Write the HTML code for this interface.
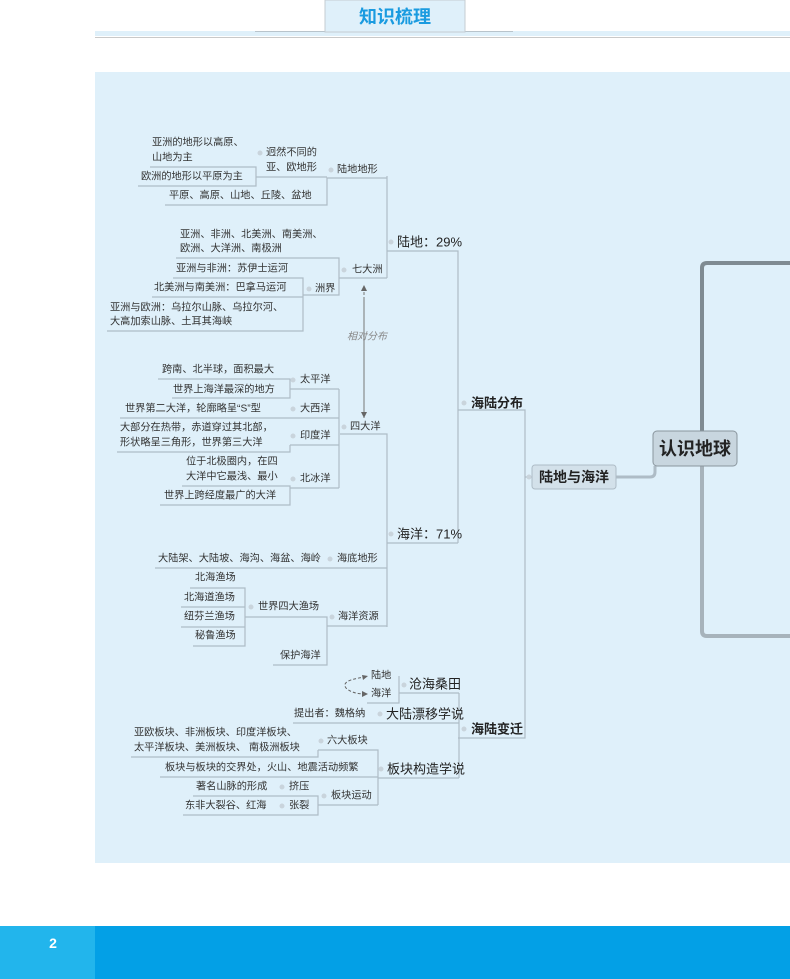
<!DOCTYPE html>
<html><head><meta charset="utf-8">
<style>
html,body{margin:0;padding:0;background:#fff;}
body{width:790px;height:979px;position:relative;overflow:hidden;font-family:"Liberation Sans","Noto Sans CJK SC",sans-serif;}
svg{position:absolute;left:0;top:0;}
</style></head><body>
<svg width="790" height="979" viewBox="0 0 790 979" font-family="Liberation Sans, Noto Sans CJK SC, sans-serif">
<defs>
<marker id="ah" markerWidth="8" markerHeight="8" refX="6" refY="3" orient="auto"><path d="M0,0 L6,3 L0,6 Z" fill="#666"/></marker>
</defs>
<rect x="95" y="31" width="695" height="5" fill="#dff0fa"/>
<rect x="95" y="37" width="695" height="1" fill="#c9c9c9"/>
<rect x="255" y="31" width="70" height="1" fill="#b8c4cc"/>
<rect x="465" y="31" width="48" height="1" fill="#b8c4cc"/>
<rect x="325" y="0" width="140" height="32" fill="#dff0fa" stroke="#c4ccd2" stroke-width="1"/>
<text x="395" y="17" text-anchor="middle" dominant-baseline="central" font-size="18" font-weight="bold" fill="#1a9be0">知识梳理</text>
<rect x="95" y="72" width="695" height="791" fill="#dff0fa"/>
<rect x="0" y="926" width="790" height="53" fill="#03a0e6"/>
<rect x="0" y="926" width="95" height="53" fill="#22b5ec"/>
<text x="53" y="943" text-anchor="middle" dominant-baseline="central" font-size="14" font-weight="bold" fill="#fff">2</text>

<g fill="none" stroke="#aebcc6" stroke-width="1.2">
<path d="M150 167 H256 V186 H138"/>
<path d="M256 177 H327"/>
<path d="M165 205 H327 V178 H387"/>
<path d="M176 258 H339 V295 H303"/>
<path d="M339 278 H387"/>
<path d="M173 278 H303 V331 H107"/>
<path d="M152 297 H303"/>
<path d="M387 176 V278"/>
<path d="M387 251 H458 V543"/>
<path d="M387 543 H458"/>
<path d="M158 379 H290 V398 H172"/>
<path d="M290 389 H339"/>
<path d="M120 418 H339"/>
<path d="M290 445 H339"/>
<path d="M290 445 V452 H117"/>
<path d="M182 486 H290 V505 H160"/>
<path d="M290 488 H339"/>
<path d="M339 389 V488"/>
<path d="M340 434 H387 V627"/>
<path d="M155 568 H387"/>
<path d="M327 626 H387"/>
<path d="M245 617 H327 V665 H273"/>
<path d="M190 588 H245 V646 H193"/>
<path d="M181 607 H245"/>
<path d="M181 627 H245"/>
<path d="M458 410 H525 V738 H458"/>
<path d="M459 693 V778"/>
<path d="M399 693 H459"/>
<path d="M367 703 H399 V676"/>
<path d="M293 723 H459"/>
<path d="M378 778 H459"/>
<path d="M318 750 H378 V805"/>
<path d="M318 750 V757 H131"/>
<path d="M160 777 H378"/>
<path d="M318 805 H378"/>
<path d="M193 796 H318 V815 H183"/>
<path d="M525 477 H532"/>
</g>
<path d="M616 477 H650 Q655 477 655 472 V466" fill="none" stroke="#aebcc6" stroke-width="3"/>
<path d="M790 263 H707 Q702 263 702 268 V431" fill="none" stroke="#7f8b92" stroke-width="4"/>
<path d="M702 466 V631 Q702 636 707 636 H790" fill="none" stroke="#a7b3bb" stroke-width="4"/>
<rect x="653" y="431" width="84" height="35" rx="4" fill="#c8d6df" stroke="#8a969e"/>
<text x="695" y="449" text-anchor="middle" dominant-baseline="central" font-size="18" font-weight="bold" fill="#222">认识地球</text>
<rect x="532" y="465" width="84" height="24" rx="3" fill="#d3e1ea" stroke="#aebcc6"/>
<text x="574" y="477" text-anchor="middle" dominant-baseline="central" font-size="14" font-weight="bold" fill="#222">陆地与海洋</text>
<path d="M364 410 V285" fill="none" stroke="#777" stroke-dasharray="3,2" marker-end="url(#ah)"/>
<path d="M364 300 V418" fill="none" stroke="#777" stroke-dasharray="3,2" marker-end="url(#ah)"/>
<text x="347" y="337" font-size="10" font-style="italic" fill="#888" dominant-baseline="central">相对分布</text>
<path d="M366 677 Q340 680 346 688 Q352 694 366 694" fill="none" stroke="#666" stroke-dasharray="3,2"/>
<path d="M362 675 L368 676 L363 680 Z" fill="#666"/>
<path d="M362 691 L368 694 L362 697 Z" fill="#666"/>

<g fill="#c9d4dc">
<circle cx="260" cy="153" r="2.5"/><circle cx="331" cy="170" r="2.5"/><circle cx="391" cy="242" r="2.5"/>
<circle cx="344" cy="270" r="2.5"/><circle cx="309" cy="289" r="2.5"/><circle cx="464" cy="403" r="2.5"/>
<circle cx="293" cy="380" r="2.5"/><circle cx="293" cy="409" r="2.5"/><circle cx="293" cy="436" r="2.5"/>
<circle cx="293" cy="479" r="2.5"/><circle cx="344" cy="427" r="2.5"/><circle cx="391" cy="534" r="2.5"/>
<circle cx="330" cy="559" r="2.5"/><circle cx="251" cy="607" r="2.5"/><circle cx="332" cy="617" r="2.5"/>
<circle cx="529" cy="477" r="2.5"/><circle cx="464" cy="729" r="2.5"/><circle cx="404" cy="685" r="2.5"/>
<circle cx="380" cy="714" r="2.5"/><circle cx="381" cy="769" r="2.5"/><circle cx="321" cy="741" r="2.5"/>
<circle cx="324" cy="796" r="2.5"/><circle cx="282" cy="787" r="2.5"/><circle cx="282" cy="806" r="2.5"/>
</g>

<g font-size="10.2" fill="#333" dominant-baseline="central">
<text x="152" y="143">亚洲的地形以高原、</text>
<text x="152" y="158">山地为主</text>
<text x="141" y="177">欧洲的地形以平原为主</text>
<text x="266" y="153">迥然不同的</text>
<text x="266" y="168">亚、欧地形</text>
<text x="337" y="170">陆地地形</text>
<text x="169" y="196">平原、高原、山地、丘陵、盆地</text>
<text x="180" y="235">亚洲、非洲、北美洲、南美洲、</text>
<text x="180" y="249">欧洲、大洋洲、南极洲</text>
<text x="176" y="269">亚洲与非洲：苏伊士运河</text>
<text x="154" y="288">北美洲与南美洲：巴拿马运河</text>
<text x="110" y="308">亚洲与欧洲：乌拉尔山脉、乌拉尔河、</text>
<text x="110" y="322">大高加索山脉、土耳其海峡</text>
<text x="315" y="289">洲界</text>
<text x="352" y="270">七大洲</text>
<text x="162" y="370">跨南、北半球，面积最大</text>
<text x="173" y="390">世界上海洋最深的地方</text>
<text x="300" y="380">太平洋</text>
<text x="125" y="409">世界第二大洋，轮廓略呈“S”型</text>
<text x="300" y="409">大西洋</text>
<text x="120" y="428">大部分在热带，赤道穿过其北部，</text>
<text x="120" y="443">形状略呈三角形，世界第三大洋</text>
<text x="300" y="436">印度洋</text>
<text x="186" y="462">位于北极圈内，在四</text>
<text x="186" y="477">大洋中它最浅、最小</text>
<text x="300" y="479">北冰洋</text>
<text x="164" y="496">世界上跨经度最广的大洋</text>
<text x="350" y="427">四大洋</text>
<text x="158" y="559">大陆架、大陆坡、海沟、海盆、海岭</text>
<text x="337" y="559">海底地形</text>
<text x="195" y="578">北海渔场</text>
<text x="184" y="598">北海道渔场</text>
<text x="184" y="617">纽芬兰渔场</text>
<text x="195" y="636">秘鲁渔场</text>
<text x="258" y="607">世界四大渔场</text>
<text x="338" y="617">海洋资源</text>
<text x="280" y="656">保护海洋</text>
<text x="371" y="676">陆地</text>
<text x="371" y="694">海洋</text>
<text x="294" y="714">提出者：魏格纳</text>
<text x="134" y="733">亚欧板块、非洲板块、印度洋板块、</text>
<text x="134" y="748">太平洋板块、美洲板块、 南极洲板块</text>
<text x="327" y="741">六大板块</text>
<text x="165" y="768">板块与板块的交界处，火山、地震活动频繁</text>
<text x="196" y="787">著名山脉的形成</text>
<text x="289" y="787">挤压</text>
<text x="185" y="806">东非大裂谷、红海</text>
<text x="289" y="806">张裂</text>
<text x="331" y="796">板块运动</text>
</g>
<g font-size="13" fill="#222" dominant-baseline="central">
<text x="397" y="242">陆地：29%</text>
<text x="397" y="534">海洋：71%</text>
<text x="409" y="684">沧海桑田</text>
<text x="386" y="714">大陆漂移学说</text>
<text x="387" y="769">板块构造学说</text>
<text x="471" y="403" font-weight="bold">海陆分布</text>
<text x="471" y="729" font-weight="bold">海陆变迁</text>
</g>
</svg>
</body></html>
